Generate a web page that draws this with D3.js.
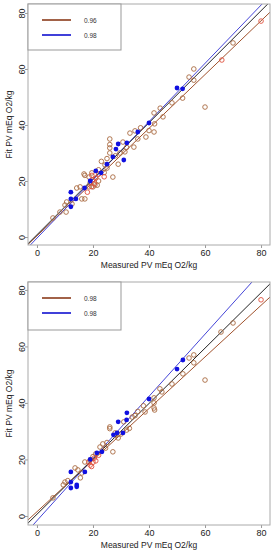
<!DOCTYPE html>
<html>
<head>
<meta charset="utf-8">
<script src="https://cdn.jsdelivr.net/npm/d3@7"></script>
<style>
  body { margin: 0; background: #fff; }
  text { font-family: "Liberation Sans", Arial, sans-serif; }
</style>
</head>
<body>
<div id="chart"></div>
<script>
// ---- data ----
var xTicks = [0, 20, 40, 60, 80];
var yTicks = [0, 20, 40, 60, 80];
var xTitle = "Measured PV mEq O2/kg";
var yTitle = "Fit PV mEq O2/kg";

// panel 1
var p1Legend = ["0.96", "0.98"];
var p1BrownX = [5.7, 8.2, 10.4, 10, 10.6, 12.5, 14.2, 15.4, 16, 17.1, 16.8, 17.1, 18.6, 19, 20.7, 18.6, 20, 21.5, 22, 19.6, 24.3, 25, 26, 26, 26, 27.1, 29, 29.6, 30.7, 31.4, 33.2, 34.6, 35, 38.9, 41.8, 42, 41.8, 44, 45, 48.2, 52, 54.3, 56, 56, 60, 70, 23, 24, 28, 32, 36, 37, 40, 25, 26, 22];
var p1BrownY = [6.8, 8.9, 8.9, 11.4, 12.5, 11.8, 17.5, 17.9, 13.6, 13.6, 22.5, 22, 21.4, 19.3, 18.6, 17.9, 17.9, 18.5, 20, 22.9, 25.7, 24.6, 35, 31.8, 30, 21.4, 26, 30, 33.9, 30.4, 37.1, 32.1, 37.9, 35.7, 44.3, 40.4, 37.5, 46, 42.9, 47.9, 49.6, 57.1, 60, 56, 46.4, 69.3, 27, 23, 29, 32, 35, 39, 38, 28, 33, 24];
var p1RedX = [19.6, 20, 21, 20.5, 19.5, 22, 18, 24, 66, 80];
var p1RedY = [22, 20.4, 21, 19, 18, 22.5, 16, 21.5, 63.2, 77.1];
var p1BlueX = [12.1, 12.1, 13.9, 12.1, 17, 21, 22.9, 27.1, 28.2, 29, 31, 32.1, 36, 40, 50, 52, 19, 25];
var p1BlueY = [16, 13.6, 13.6, 10.8, 17.5, 23.6, 22.9, 28.6, 31.4, 33.2, 27.5, 33.6, 37.5, 40.7, 53.2, 52.9, 20, 26];
// fitted lines [slope, intercept]: brown, blue, black
var p1Fits = [[0.96, 0.4], [1.04, -0.4], [1.0, 0.8]];

// panel 2
var p2Legend = ["0.98", "0.98"];
var p2BrownX = [5.7, 9.4, 10, 11, 13.6, 14.6, 16, 15.5, 17.1, 19, 22.5, 23.5, 24.5, 26, 26, 27.9, 29, 27.1, 31, 32, 33, 30, 34, 35, 38.6, 41.8, 41.8, 41.8, 42, 43.9, 44.6, 48.2, 52.1, 54.3, 56, 56, 60, 65.7, 70, 20, 21, 25, 28, 36, 38];
var p2BrownY = [6.4, 11, 12, 12.5, 17, 16.3, 15.2, 13.5, 19.1, 19.8, 24.4, 25.5, 24, 31.5, 30.9, 29.4, 27.6, 22.7, 33.3, 30.4, 31, 29, 35, 35.5, 36.8, 41.8, 40, 38.2, 37.5, 45, 43.9, 46.7, 50.3, 55.9, 57, 54.2, 48.1, 65.1, 68.3, 21, 22, 26, 28.5, 37, 39];
var p2RedX = [19, 19.5, 20, 20.5, 18.5, 21, 22, 80];
var p2RedY = [18, 17.5, 19, 20.5, 19, 19.5, 21.5, 76.5];
var p2BlueX = [12.1, 12.1, 14.2, 14.2, 12.1, 17.1, 21.4, 23.2, 27.3, 28.6, 30.7, 29, 32.1, 40, 50, 52.1, 32, 19];
var p2BlueY = [15.6, 12, 11, 10.3, 9.9, 15.6, 22.3, 22.7, 28.7, 29.4, 29.4, 33.3, 36.5, 41.4, 52, 55.2, 34, 20];
var p2Fits = [[0.913, 1.5], [1.10, -1.66], [0.98, 0.6]];

// ---- drawing ----
var svg = d3.select("#chart").append("svg")
  .attr("width", 274)
  .attr("height", 550);

var red = "#e0503c", blue = "#1010e0";

function drawPanel(id, box, yDom, legend, bx, by, rx, ry, ux, uy, fits) {
  var x = d3.scaleLinear().domain([-3.2, 83.2]).range([box.left, box.right]);
  var y = d3.scaleLinear().domain(yDom).range([box.bottom, box.top]);
  var g = svg.append("g");

  g.append("clipPath").attr("id", "clip" + id)
    .append("rect")
    .attr("x", box.left).attr("y", box.top)
    .attr("width", box.right - box.left).attr("height", box.bottom - box.top);

  var plot = g.append("g").attr("clip-path", "url(#clip" + id + ")");

  // regression lines
  var lineCols = ["#a0522d", "#4545d8", "#222"];
  fits.forEach(function (f, i) {
    plot.append("line")
      .attr("x1", x(-5)).attr("y1", y(f[0] * -5 + f[1]))
      .attr("x2", x(90)).attr("y2", y(f[0] * 90 + f[1]))
      .attr("stroke", lineCols[i])
      .attr("stroke-width", 1);
  });

  // open circles
  function circles(xs, ys, col) {
    plot.selectAll(null)
      .data(xs)
      .enter().append("circle")
      .attr("cx", function (d) { return x(d); })
      .attr("cy", function (d, i) { return y(ys[i]); })
      .attr("r", 2.3)
      .attr("fill", "none")
      .attr("stroke", col)
      .attr("stroke-width", 0.9);
  }
  circles(bx, by, "#a8693f");
  circles(rx, ry, red);

  plot.selectAll(null)
    .data(ux)
    .enter().append("circle")
    .attr("cx", function (d) { return x(d); })
    .attr("cy", function (d, i) { return y(uy[i]); })
    .attr("r", 2.4)
    .attr("fill", blue);

  // axes
  var xAxis = g.append("g")
    .attr("transform", "translate(0," + box.bottom + ")")
    .call(d3.axisBottom(x).tickValues(xTicks).tickSize(3).tickPadding(2));
  xAxis.select(".domain").remove();
  xAxis.selectAll("line").attr("stroke", "#999");
  xAxis.selectAll("text").attr("font-size", 9).attr("fill", "#222")
    .attr("font-family", "Liberation Sans, Arial, sans-serif");

  var yAxis = g.append("g")
    .attr("transform", "translate(" + box.left + ",0)")
    .call(d3.axisLeft(y).tickValues(yTicks).tickSize(3));
  yAxis.select(".domain").remove();
  yAxis.selectAll("line").attr("stroke", "#999");
  yAxis.selectAll("text")
    .attr("x", 0).attr("dy", 0)
    .attr("transform", "translate(-3,0) rotate(-90)")
    .attr("text-anchor", "middle")
    .attr("font-size", 9).attr("fill", "#222")
    .attr("font-family", "Liberation Sans, Arial, sans-serif");

  // box
  g.append("rect")
    .attr("x", box.left).attr("y", box.top)
    .attr("width", box.right - box.left).attr("height", box.bottom - box.top)
    .attr("fill", "none").attr("stroke", "#aaa").attr("stroke-width", 1);

  // titles
  g.append("text")
    .attr("x", (box.left + box.right) / 2).attr("y", box.bottom + 22.5)
    .attr("text-anchor", "middle").attr("font-size", 8.5).attr("fill", "#222")
    .text(xTitle);
  g.append("text")
    .attr("transform", "translate(12," + (box.top + box.bottom) / 2 + ") rotate(-90)")
    .attr("text-anchor", "middle").attr("font-size", 8.5).attr("fill", "#222")
    .text(yTitle);

  // legend
  var lg = g.append("g");
  lg.append("rect")
    .attr("x", box.left).attr("y", box.top)
    .attr("width", 93).attr("height", box.legendH)
    .attr("fill", "#fff").attr("stroke", "#999").attr("stroke-width", 1);
  var legCols = ["#8b3a1a", "#1010d0"];
  legend.forEach(function (t, i) {
    var ly = box.top + 16 + i * 15;
    lg.append("line")
      .attr("x1", 42).attr("x2", 71).attr("y1", ly).attr("y2", ly)
      .attr("stroke", legCols[i]).attr("stroke-width", 1.6);
    lg.append("text")
      .attr("x", 84).attr("y", ly + 2.5)
      .attr("font-size", 6.5).attr("fill", "#333")
      .text(t);
  });
}

drawPanel(1, { left: 28, right: 270, top: 4, bottom: 245, legendH: 46 }, [-2.86, 83.2],
  p1Legend, p1BrownX, p1BrownY, p1RedX, p1RedY, p1BlueX, p1BlueY, p1Fits);
drawPanel(2, { left: 28, right: 270, top: 282, bottom: 525, legendH: 48 }, [-3.2, 82.8],
  p2Legend, p2BrownX, p2BrownY, p2RedX, p2RedY, p2BlueX, p2BlueY, p2Fits);
</script>
</body>
</html>
